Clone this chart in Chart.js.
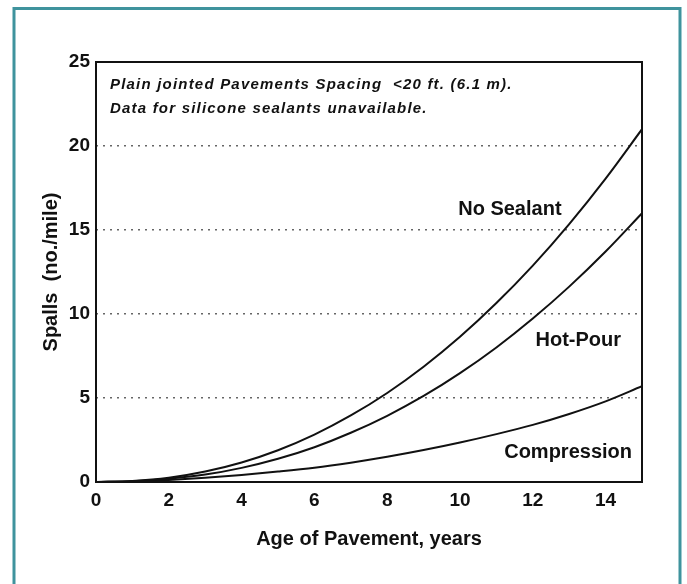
<!DOCTYPE html>
<html><head><meta charset="utf-8">
<script src="https://cdn.jsdelivr.net/npm/chart.js@4/dist/chart.umd.min.js"></script>
<style>html,body{margin:0;padding:0;background:#fff;} #wrap{width:687px;height:584px;position:relative;}</style>
</head><body><div id="wrap"><canvas id="c" width="687" height="584"></canvas></div>
<script>
// ---- data ----
const ages        = [0, 1, 2, 3, 4, 5, 6, 7, 8, 9, 10, 11, 12, 13, 14, 15];
const noSealant   = [0, 0.06, 0.25, 0.62, 1.16, 1.89, 2.82, 3.96, 5.3, 6.86, 8.64, 10.65, 12.88, 15.35, 18.06, 21.0];
const hotPour     = [0, 0.05, 0.2, 0.44, 0.84, 1.38, 2.07, 2.93, 3.94, 5.12, 6.48, 8.01, 9.73, 11.63, 13.72, 16.0];
const compression = [0, 0.03, 0.12, 0.25, 0.42, 0.62, 0.85, 1.15, 1.5, 1.9, 2.35, 2.85, 3.4, 4.05, 4.8, 5.7];
const seriesNames = ['No Sealant', 'Hot-Pour', 'Compression'];
const xTickValues = [0, 2, 4, 6, 8, 10, 12, 14];
const yTickValues = [0, 5, 10, 15, 20, 25];
const noteLines = ['Plain jointed Pavements Spacing  <20 ft. (6.1 m).', 'Data for silicone sealants unavailable.'];
const xTitle = 'Age of Pavement, years';
const yTitle = 'Spalls  (no./mile)';

// label anchors in data units (age, spalls)
const labelAnchors = [[11.37, 16.2], [13.25, 8.4], [12.97, 1.75]];

const FONT = '"Liberation Sans", Arial, Helvetica, sans-serif';

function toPoints(vals) { return ages.map((a, i) => ({x: a, y: vals[i]})); }

const framePlugin = {
  id: 'frame',
  beforeDraw(chart) {
    const ctx = chart.ctx;
    ctx.save();
    ctx.fillStyle = '#fff';
    ctx.fillRect(0, 0, chart.width, chart.height);
    ctx.strokeStyle = '#3f939d';
    ctx.lineWidth = 3;
    ctx.beginPath();
    ctx.moveTo(14, 600); ctx.lineTo(14, 8.5); ctx.lineTo(680, 8.5); ctx.lineTo(680, 600);
    ctx.stroke();
    ctx.restore();
  },
  afterDatasetsDraw(chart) {
    const ctx = chart.ctx;
    const a = chart.chartArea;
    const xs = chart.scales.x, ys = chart.scales.y;
    ctx.save();
    ctx.strokeStyle = '#111';
    ctx.lineWidth = 2;
    ctx.strokeRect(a.left, a.top, a.right - a.left, a.bottom - a.top);
    // note text
    ctx.fillStyle = '#111';
    ctx.font = 'italic bold 15px ' + FONT;
    ctx.textAlign = 'left';
    ctx.textBaseline = 'alphabetic';
    if ('letterSpacing' in ctx) ctx.letterSpacing = '1.2px';
    ctx.fillText(noteLines[0], a.left + 14, 89);
    ctx.fillText(noteLines[1], a.left + 14, 113);
    if ('letterSpacing' in ctx) ctx.letterSpacing = '0px';
    // curve labels
    ctx.font = 'bold 20px ' + FONT;
    ctx.textAlign = 'center';
    ctx.textBaseline = 'middle';
    seriesNames.forEach((n, i) => {
      ctx.fillText(n, xs.getPixelForValue(labelAnchors[i][0]), ys.getPixelForValue(labelAnchors[i][1]));
    });
    ctx.restore();
  }
};

const lineStyle = {borderColor: '#111', borderWidth: 2, pointRadius: 0, fill: false, cubicInterpolationMode: 'monotone'};

new Chart(document.getElementById('c'), {
  type: 'line',
  data: {
    datasets: [
      Object.assign({label: seriesNames[0], data: toPoints(noSealant)}, lineStyle),
      Object.assign({label: seriesNames[1], data: toPoints(hotPour)}, lineStyle),
      Object.assign({label: seriesNames[2], data: toPoints(compression)}, lineStyle)
    ]
  },
  options: {
    responsive: false,
    animation: false,
    layout: {padding: {left: 39, top: 62, right: 45, bottom: 33}},
    plugins: {legend: {display: false}, tooltip: {enabled: false}},
    scales: {
      x: {
        type: 'linear', min: 0, max: 15,
        afterFit(s) { s.height = 69; },
        afterBuildTicks(s) { s.ticks = xTickValues.map(v => ({value: v})); },
        ticks: {color: '#111', font: {family: FONT, size: 19, weight: 'bold'}, padding: 7, maxRotation: 0, autoSkip: false},
        grid: {display: false, drawTicks: false},
        border: {display: false},
        title: {display: true, text: xTitle, color: '#111', font: {family: FONT, size: 20, weight: 'bold'}, padding: {top: 0, bottom: 0}}
      },
      y: {
        type: 'linear', min: 0, max: 25,
        afterFit(s) { s.width = 57; },
        afterBuildTicks(s) { s.ticks = yTickValues.map(v => ({value: v})); },
        ticks: {color: '#111', font: {family: FONT, size: 19, weight: 'bold'}, padding: 6},
        grid: {
          drawTicks: false, lineWidth: 1.5,
          color: ctx => (ctx.tick && (ctx.tick.value === 0 || ctx.tick.value === 25)) ? 'rgba(0,0,0,0)' : '#666'
        },
        border: {display: false, dash: [2, 5]},
        title: {display: true, text: yTitle, color: '#111', font: {family: FONT, size: 20, weight: 'bold'}, padding: {top: 0, bottom: 0}}
      }
    }
  },
  plugins: [framePlugin]
});
</script>
</body></html>
